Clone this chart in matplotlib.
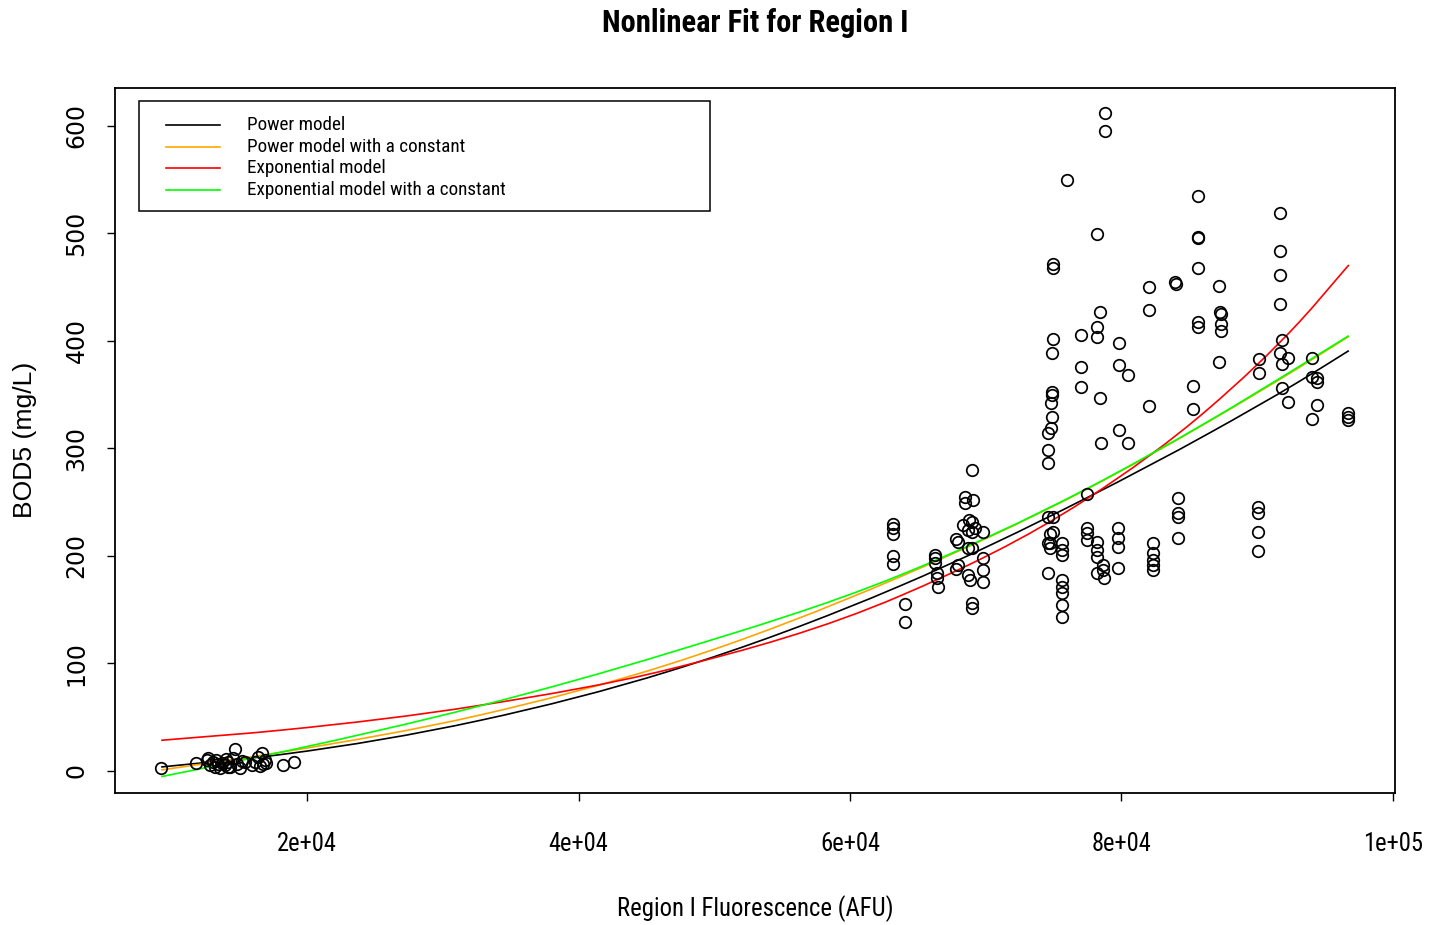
import os
import matplotlib
matplotlib.use("Agg")
import matplotlib.pyplot as plt
from matplotlib.lines import Line2D
from matplotlib.patches import Rectangle, PathPatch
from matplotlib.path import Path
import matplotlib.font_manager as fm

# ---------------- data ----------------
fluor = [
    # low cluster
    9250, 11800, 12630, 12850, 13080, 13220, 13440, 13590, 13740, 13960, 14180, 14330,
    14550, 14700, 14840, 15070, 15430, 15950, 16170, 16390, 16690, 16760, 16910, 18230,
    19040, 12700, 13300, 14000, 14200, 15200, 16500, 17000,
    # ~63-66k
    63170, 63170, 63170, 63170, 63170, 64050, 64050,
    66260, 66260, 66400, 66400, 66480, 66260,
    # ~68-70k
    67800, 67950, 68470, 68470, 68980, 69060, 68320, 68760, 68980, 69200, 68690, 68980,
    68690, 68980, 69790, 68690, 68830, 68980, 68980, 69790, 69790, 69790, 67800, 67950,
    # ~74.5-76k
    74580, 74580, 74580, 74800, 74880, 74880, 74880, 74800, 74950, 74880, 74950, 74950,
    74580, 74580, 74580, 74950, 74730, 74950, 74730, 74730, 75610, 75610, 75610, 75610,
    75610, 75610, 75610, 75610, 75980,
    # ~77-79k
    77010, 77010, 77010, 77450, 77450, 77450, 77450, 78190, 78190, 78190, 78410, 78410,
    78490, 78190, 78190, 78190, 78190, 78630, 78630, 78710, 78780, 78780,
    # ~80k
    79810, 79810, 79810, 80480, 80480, 79740, 79740, 79740, 79740,
    # ~82k
    82020, 82020, 82020, 82320, 82320, 82320, 82320, 82320,
    # ~84k
    83940, 84010, 84160, 84160, 84160, 84160,
    # ~85.5k
    85260, 85260, 85630, 85630, 85630, 85630, 85630, 85630,
    # ~87k
    87180, 87250, 87330, 87330, 87330, 87180,
    # ~90k
    90050, 90050, 90050, 90050, 90130, 90130,
    # ~92k
    91670, 91670, 91670, 91670, 91820, 91670, 91820, 92260, 91820, 92260,
    # ~94k
    94030, 94030, 94400, 94400, 94400, 94030,
    # ~97k
    96680, 96680, 96680,
]
bod5 = [
    2.8, 7.4, 10.2, 5.6, 8.4, 3.7, 6.5, 2.8, 7.4, 5.6, 8.4, 3.7,
    12.1, 20.5, 6.5, 2.8, 8.4, 5.6, 8.4, 13.0, 16.7, 6.5, 10.2, 5.6,
    8.4, 12.0, 10.0, 11.0, 4.0, 9.0, 5.0, 7.0,
    229.7, 226.0, 220.4, 199.9, 192.5, 155.3, 138.5,
    200.8, 193.4, 184.1, 179.5, 171.1, 198.0,
    216.0, 213.0, 254.8, 249.2, 279.9, 252.0, 228.7, 233.4, 231.5, 225.9, 224.1, 222.2,
    207.3, 207.3, 222.2, 182.2, 177.6, 156.2, 151.6, 198.0, 186.9, 175.7, 187.8, 191.5,
    298.5, 286.4, 314.3, 318.9, 329.2, 352.4, 349.6, 342.2, 401.7, 388.7, 471.4, 467.6,
    184.1, 212.0, 236.2, 236.2, 220.4, 222.2, 212.0, 207.3, 212.0, 205.5, 200.8, 177.6,
    171.1, 165.5, 154.3, 143.2, 549.5,
    405.4, 375.6, 357.0, 257.6, 225.9, 221.3, 214.8, 499.3, 403.5, 412.8, 426.8, 346.8,
    305.0, 212.9, 205.5, 199.0, 184.1, 191.5, 186.9, 179.5, 611.8, 595.1,
    398.0, 377.5, 317.1, 368.2, 305.0, 225.9, 216.6, 208.3, 188.7,
    450.0, 428.6, 339.4, 212.0, 202.7, 196.2, 191.5, 186.9,
    454.7, 452.8, 253.8, 239.9, 236.2, 216.6,
    358.0, 336.6, 534.6, 496.5, 495.6, 467.7, 417.5, 412.8,
    451.0, 426.8, 424.9, 415.6, 409.1, 380.3,
    245.5, 239.9, 222.2, 204.6, 383.1, 370.1,
    518.8, 483.5, 461.2, 434.2, 400.7, 388.7, 378.4, 384.0, 356.1, 343.1,
    384.0, 366.3, 365.4, 361.7, 340.3, 327.3,
    332.9, 329.2, 326.4,
]

# fitted curves
curve_x = [9250, 18230, 32740, 46740, 63680, 77450, 86520, 93140, 96750]
power_fit = [3.7, 15.5, 47.0, 93.0, 172.0, 254.0, 314.5, 362.5, 390.8]
power_const_fit = [0.9, 17.7, 52.0, 99.5, 180.5, 262.0, 325.5, 375.5, 404.0]
exp_fit = [28.5, 38.1, 61.0, 94.7, 162.7, 253.0, 338.0, 418.0, 470.5]
exp_const_fit = [-5.3, 17.9, 60.5, 110.0, 182.0, 262.5, 326.0, 376.5, 404.7]

legend_labels = ["Power model", "Power model with a constant",
                 "Exponential model", "Exponential model with a constant"]
curve_colors = ["black", "#FFA500", "#FF0000", "#00FF00"]

x_ticks = [20000, 40000, 60000, 80000, 100000]
x_tick_labels = ["2e+04", "4e+04", "6e+04", "8e+04", "1e+05"]
y_ticks = [0, 100, 200, 300, 400, 500, 600]


# ---------------- fonts ----------------
def pick_narrow(bold):
    prefs = ["liberationsansnarrow", "arialn", "arial narrow", "robotocondensed",
             "roboto condensed", "opensans", "open sans", "notosans", "noto sans",
             "dejavusanscondensed", "dejavu sans", "lato", "inter"]
    best, best_rank = None, 999
    for f in fm.fontManager.ttflist:
        fname = os.path.basename(f.fname).lower()
        name = f.name.lower()
        if f.style != "normal":
            continue
        if "mono" in fname or "mono" in name or ("serif" in fname and "sans" not in fname):
            continue
        w = f.weight if isinstance(f.weight, (int, float)) else fm.weight_dict.get(f.weight, 400)
        if bold and w < 600:
            continue
        if not bold and not (350 <= w <= 500):
            continue
        st = f.stretch
        stv = st if isinstance(st, (int, float)) else fm.stretch_dict.get(st, 500)
        narrow = ("narrow" in fname or "narrow" in name or "condensed" in fname
                  or "condensed" in name or stv < 500)
        if not narrow:
            continue
        if "extra" in fname or "ultra" in fname or "semi" in fname:
            continue
        key = fname + " " + name
        rank = len(prefs)
        for i, p in enumerate(prefs):
            if p in key:
                rank = i
                break
        if rank < best_rank:
            best, best_rank = f.fname, rank
    return best


narrow_reg = pick_narrow(False)
narrow_bold = pick_narrow(True)


def fprop(path, fallback_weight="normal"):
    if path:
        return fm.FontProperties(fname=path)
    return fm.FontProperties(family="Liberation Sans", weight=fallback_weight)


fp_reg = fprop(narrow_reg)
fp_bold = fprop(narrow_bold, "bold")
fp_wide = fm.FontProperties(family="Liberation Sans")

W, H = 1429, 925
fig = plt.figure(figsize=(W / 100, H / 100), dpi=100)
renderer = fig.canvas.get_renderer()


def size_for(text, fp, target_px):
    p = fp.copy()
    p.set_size(20)
    t = fig.text(0, 0, text, fontproperties=p)
    w = t.get_window_extent(renderer).width
    t.remove()
    return 20 * target_px / w


def fx(px):
    return px / W


def fy(py):
    return 1 - py / H


L, R, T, B = 115, 1395, 88, 793
ax = fig.add_axes([fx(L), fy(B), fx(R) - fx(L), fy(T) - fy(B)])

ax.plot(fluor, bod5, linestyle="none", marker="o", markersize=8.3,
        markerfacecolor="none", markeredgecolor="black", markeredgewidth=1.25)


def smooth_path(xs, ys):
    """Cubic Hermite path through the read points (drawn as Bezier segments)."""
    n = len(xs)
    m = []
    for i in range(n):
        if i == 0:
            m.append((ys[1] - ys[0]) / (xs[1] - xs[0]))
        elif i == n - 1:
            m.append((ys[-1] - ys[-2]) / (xs[-1] - xs[-2]))
        else:
            h0 = xs[i] - xs[i - 1]
            h1 = xs[i + 1] - xs[i]
            d0 = (ys[i] - ys[i - 1]) / h0
            d1 = (ys[i + 1] - ys[i]) / h1
            m.append((d0 * h1 + d1 * h0) / (h0 + h1))
    verts = [(xs[0], ys[0])]
    codes = [Path.MOVETO]
    for i in range(n - 1):
        h = xs[i + 1] - xs[i]
        verts += [(xs[i] + h / 3, ys[i] + m[i] * h / 3),
                  (xs[i + 1] - h / 3, ys[i + 1] - m[i + 1] * h / 3),
                  (xs[i + 1], ys[i + 1])]
        codes += [Path.CURVE4] * 3
    return Path(verts, codes)


for ys, c in zip([power_fit, power_const_fit, exp_fit, exp_const_fit], curve_colors):
    ax.add_patch(PathPatch(smooth_path(curve_x, ys), facecolor="none", edgecolor=c,
                           linewidth=1.2))

ax.set_xlim(5850, 100150)
ax.set_ylim(-20.5, 635)

ax.set_xticks(x_ticks)
ax.set_xticklabels(x_tick_labels)
ax.set_yticks(y_ticks)
ax.set_yticklabels([str(v) for v in y_ticks], rotation=90, va="center")

xt_size = size_for("8e+04", fp_reg, 60)
for lab in ax.get_xticklabels():
    p = fp_reg.copy()
    p.set_size(xt_size)
    lab.set_fontproperties(p)
ax.tick_params(axis="x", direction="out", length=6, width=1, pad=22)
ax.tick_params(axis="y", direction="out", length=6, width=1, labelsize=17, pad=13)
for sp in ax.spines.values():
    sp.set_linewidth(1.3)

# titles / labels
p = fp_bold.copy()
p.set_size(size_for("Nonlinear Fit for Region I", fp_bold, 306))
fig.text(fx(755), fy(23), "Nonlinear Fit for Region I", ha="center", va="center",
         fontproperties=p)
p = fp_reg.copy()
p.set_size(size_for("Region I Fluorescence (AFU)", fp_reg, 276))
fig.text(fx(755), fy(909), "Region I Fluorescence (AFU)", ha="center", va="center",
         fontproperties=p)
p = fp_wide.copy()
p.set_size(size_for("BOD5 (mg/L)", fp_wide, 156))
fig.text(fx(25), fy(440), "BOD5 (mg/L)", ha="center", va="center", rotation=90,
         fontproperties=p)

# legend drawn manually
fig.add_artist(Rectangle((fx(139), fy(211)), fx(710) - fx(139), fy(101) - fy(211),
                         transform=fig.transFigure, fill=False, edgecolor="black",
                         linewidth=1.1))
leg_size = size_for("Power model with a constant", fp_reg, 218)
for i, (lab, c) in enumerate(zip(legend_labels, curve_colors)):
    yy = 125 + i * 21.7
    fig.add_artist(Line2D([fx(166), fx(220)], [fy(yy), fy(yy)], transform=fig.transFigure,
                          color=c, linewidth=1.2))
    p = fp_reg.copy()
    p.set_size(leg_size)
    fig.text(fx(247), fy(yy), lab, ha="left", va="center", fontproperties=p)

fig.savefig("out.png", dpi=100)
